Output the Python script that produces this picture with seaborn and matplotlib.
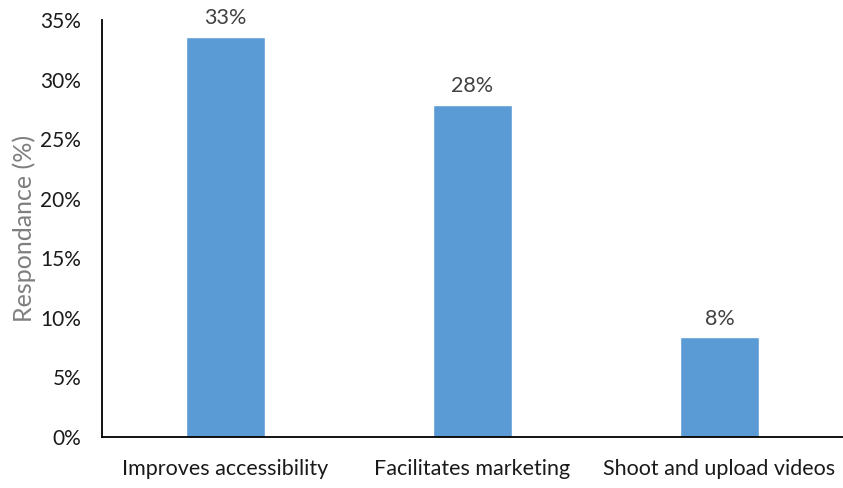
import matplotlib
matplotlib.use("Agg")
import matplotlib.pyplot as plt
import seaborn as sns
import pandas as pd
from matplotlib.ticker import PercentFormatter

categories = ["Improves accessibility", "Facilitates marketing", "Shoot and upload videos"]
values = [33.6, 27.9, 8.4]
value_labels = ["33%", "28%", "8%"]
yticks = [0, 5, 10, 15, 20, 25, 30, 35]

sns.set_style("white")
plt.rcParams["font.family"] = ["Lato", "DejaVu Sans"]

df = pd.DataFrame({"cat": categories, "val": values})
fig = plt.figure(figsize=(8.43, 4.88), dpi=100)
ax = fig.add_axes([0.121, 0.1045, 0.879, 0.8545])
sns.barplot(data=df, x="cat", y="val", color="#5B9BD5", saturation=1, width=0.316, ax=ax)
ax.set_xlim(-0.5, 2.5)
ax.set_ylim(0, 35)
ax.set_yticks(yticks)
ax.yaxis.set_major_formatter(PercentFormatter(decimals=0))
ax.tick_params(axis="both", length=0, labelsize=15, colors="#1a1a1a")
ax.tick_params(axis="y", pad=15)
ax.tick_params(axis="x", pad=16, labelsize=15.5)
ax.set_xlabel("")
ax.set_ylabel("Respondance (%)", fontsize=18, color="#7f7f7f", labelpad=3)
for s in ["top", "right"]:
    ax.spines[s].set_visible(False)
for s in ["left", "bottom"]:
    ax.spines[s].set_color("black")
    ax.spines[s].set_linewidth(1.3)
for i, (v, lab) in enumerate(zip(values, value_labels)):
    ax.annotate(lab, (i, v), xytext=(0, 6), textcoords="offset points",
                ha="center", va="bottom", fontsize=15.5, color="#404040")
fig.savefig("out.png", dpi=100)
